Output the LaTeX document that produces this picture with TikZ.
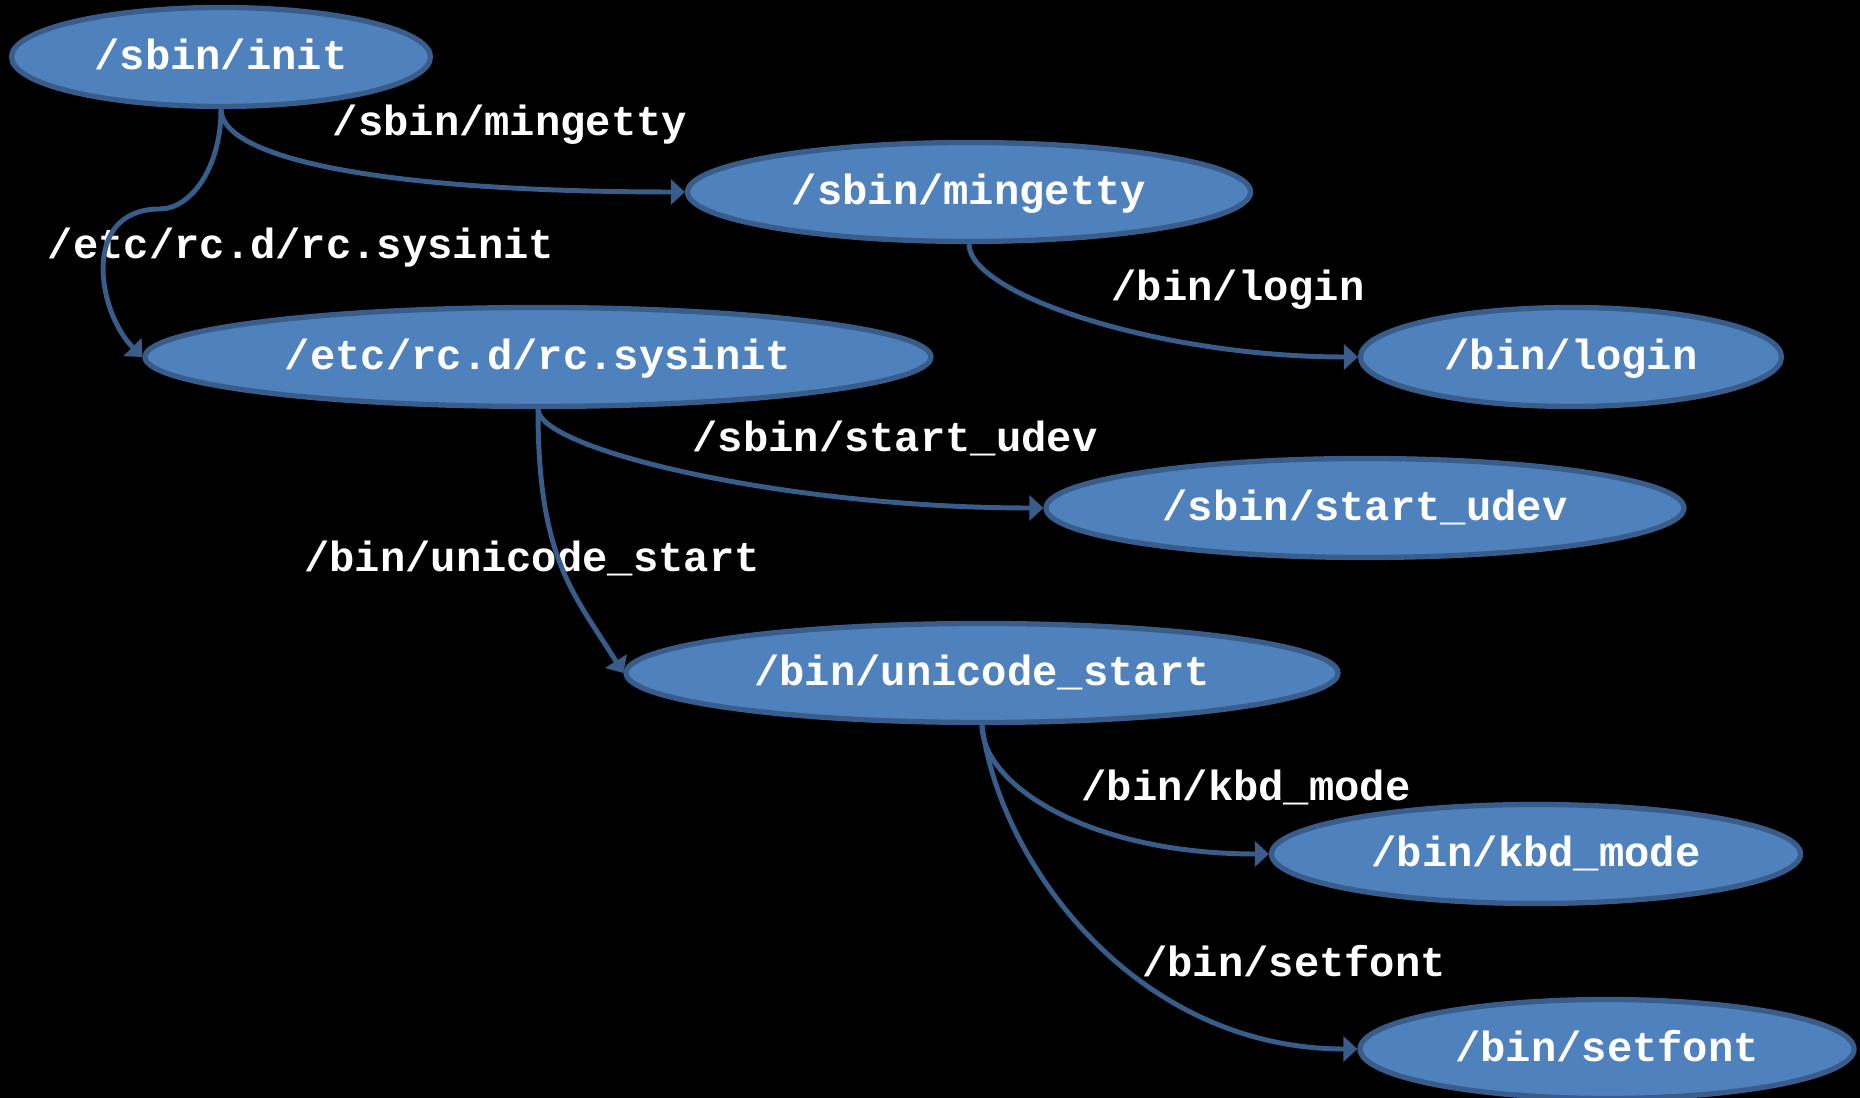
\documentclass[tikz,border=0pt]{standalone}
\usepackage{fontspec}
\newfontfamily\codefont{Liberation Mono}
\definecolor{relleno}{HTML}{4F81BD}
\definecolor{borde}{HTML}{385D8A}
\usetikzlibrary{arrows.meta,shapes.geometric}

\begin{document}
\begin{tikzpicture}[
        proc/.style={ellipse, draw=borde, fill=relleno, line width=1.5pt, inner sep=0pt,
            minimum height=9.9mm, text=white, font=\codefont\bfseries\fontsize{12}{14}\selectfont,
            text height=2.5mm, text depth=0mm},
        etq/.style={text=white, inner sep=0pt, font=\codefont\bfseries\fontsize{12}{14}\selectfont,
            text height=2.5mm, text depth=0mm},
        flecha/.style={-{Triangle[length=1.4mm, width=2.5mm]}, line width=1.4pt, borde}
    ]
        % fondo
        \useasboundingbox (0, 0) rectangle (18.6, 10.98);
        \fill[black] (0, 0) rectangle (18.6, 10.98);
        % nodos
        \node (init) [proc, minimum width=41.9mm] at (2.21, 10.41) {/sbin/init};
        \node (mget) [proc, minimum width=56.3mm] at (9.69, 9.06)  {/sbin/mingetty};
        \node (rcsi) [proc, minimum width=78.6mm] at (5.38, 7.41)  {/etc/rc.d/rc.sysinit};
        \node (login) [proc, minimum width=42.1mm] at (15.71, 7.41) {/bin/login};
        \node (udev) [proc, minimum width=63.8mm] at (13.65, 5.90) {/sbin/start\_udev};
        \node (unic) [proc, minimum width=71.2mm] at (9.82, 4.25)  {/bin/unicode\_start};
        \node (kbd)  [proc, minimum width=52.9mm] at (15.36, 2.44) {/bin/kbd\_mode};
        \node (sfont) [proc, minimum width=49.4mm] at (16.07, 0.49) {/bin/setfont};
        % etiquetas
        \node (l1) [etq] at (5.10, 9.75)  {/sbin/mingetty};
        \node (l2) [etq] at (3.01, 8.52)  {/etc/rc.d/rc.sysinit};
        \node (l3) [etq] at (12.38, 8.10) {/bin/login};
        \node (l4) [etq] at (8.95, 6.59)  {/sbin/start\_udev};
        \node (l5) [etq] at (5.32, 5.39)  {/bin/unicode\_start};
        \node (l6) [etq] at (12.46, 3.10) {/bin/kbd\_mode};
        \node (l7) [etq] at (12.94, 1.34) {/bin/setfont};
        \coordinate (k1) at (1.60, 8.89);
        % arcos
        \draw[flecha] (init.south) .. controls +(0, -0.5) and +(-3.0, 0) .. (mget.west);
        \draw[flecha] (init.south) .. controls +(0, -0.6) and +(0.3, 0) .. (k1)
            .. controls +(-0.8, 0) and +(-0.45, 0.45) .. (rcsi.west);
        \draw[flecha] (mget.south) .. controls +(0, -0.5) and +(-2.0, 0) .. (login.west);
        \draw[flecha] (rcsi.south) .. controls +(0, -0.4) and +(-2.6, 0) .. (udev.west);
        \draw[flecha] (rcsi.south) .. controls +(0, -1.5) and +(-0.5, 0.8) .. (unic.west);
        \draw[flecha] (unic.south) .. controls +(0, -0.6) and +(-1.8, 0) .. (kbd.west);
        \draw[flecha] (unic.south) .. controls +(0.18, -1.4) and +(-2.2, 0) .. (sfont.west);
    \end{tikzpicture}
\end{document}
